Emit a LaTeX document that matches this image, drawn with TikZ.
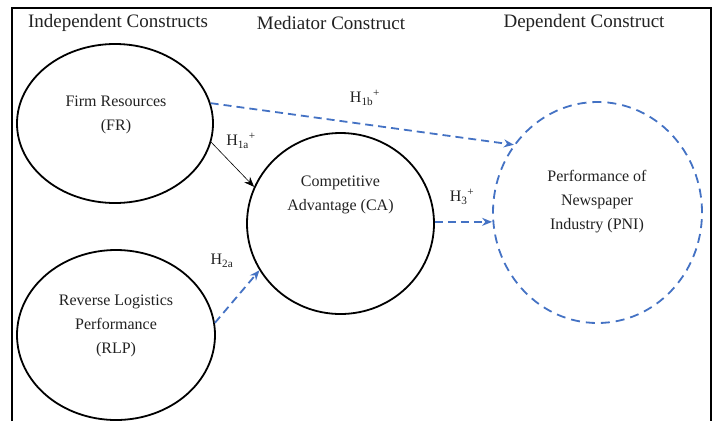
\documentclass[tikz,border=0pt]{standalone}
\usepackage{fontspec}
\setmainfont{Liberation Serif}
\usetikzlibrary{shapes.geometric,arrows.meta}
\definecolor{lblue}{HTML}{4472C4}
\definecolor{txt}{HTML}{222222}
\begin{document}
\begin{tikzpicture}[x=1pt,y=-1pt,
  construct/.style={ellipse,draw=black,line width=1.8pt,inner sep=0pt},
  dconstruct/.style={ellipse,draw=lblue,line width=1.8pt,inner sep=0pt,dash pattern=on 9pt off 6pt},
  body/.style={text=txt,font=\fontsize{16}{24}\selectfont,align=center,inner sep=0pt},
  head/.style={text=txt,font=\fontsize{19}{22}\selectfont,inner sep=0pt},
  hlab/.style={text=txt,font=\fontsize{16}{18}\selectfont,inner sep=0pt},
  darrow/.style={draw=lblue,line width=1.8pt,dash pattern=on 8pt off 5pt,-{Stealth[length=10pt,width=8pt]}},
  sarrow/.style={draw=black,line width=0.6pt,-{Stealth[length=10pt,width=8pt]}}]
\useasboundingbox (0,0) rectangle (715,421);
\fill[white] (0,0) rectangle (715,421);
\draw[line width=1.4pt] (12,421) -- (12,8) -- (711,8) -- (711,421);

\node[head] (h1) at (118,23) {Independent Constructs};
\node[head] (h2) at (331,23) {Mediator Construct};
\node[head] (h3) at (584,23) {Dependent Construct};

\node[construct,minimum width=196pt,minimum height=159pt] (FR) at (115,123.5) {};
\node[construct,minimum width=198pt,minimum height=170pt] (RLP) at (116,335) {};
\node[construct,minimum width=187pt,minimum height=181pt] (CA) at (340.5,223.5) {};
\node[dconstruct,minimum width=209pt,minimum height=221pt] (PNI) at (597.5,212.5) {};

\node[body] (FRt) at (116,115) {Firm Resources\\(FR)};
\node[body] (RLPt) at (116,326) {Reverse Logistics\\Performance\\(RLP)};
\node[body] (CAt) at (340.5,195) {Competitive\\Advantage (CA)};
\node[body] (PNIt) at (597,202) {Performance of\\Newspaper\\Industry (PNI)};

\draw[darrow] (FR.12) -- (PNI.141.6);
\draw[sarrow] (FR.-11) -- (CA.157);
\draw[darrow] (RLP.7) -- (CA.210);
\draw[darrow] (CA.1.5) -- (CA.1.5 -| PNI.west);

\node[hlab] (l1b) at (365,98) {H\textsubscript{1b}\textsuperscript{+}};
\node[hlab] (l1a) at (241,141) {H\textsubscript{1a}\textsuperscript{+}};
\node[hlab] (l2a) at (222,261) {H\textsubscript{2a}};
\node[hlab] (l3) at (462,197) {H\textsubscript{3}\textsuperscript{+}};
\end{tikzpicture}
\end{document}
